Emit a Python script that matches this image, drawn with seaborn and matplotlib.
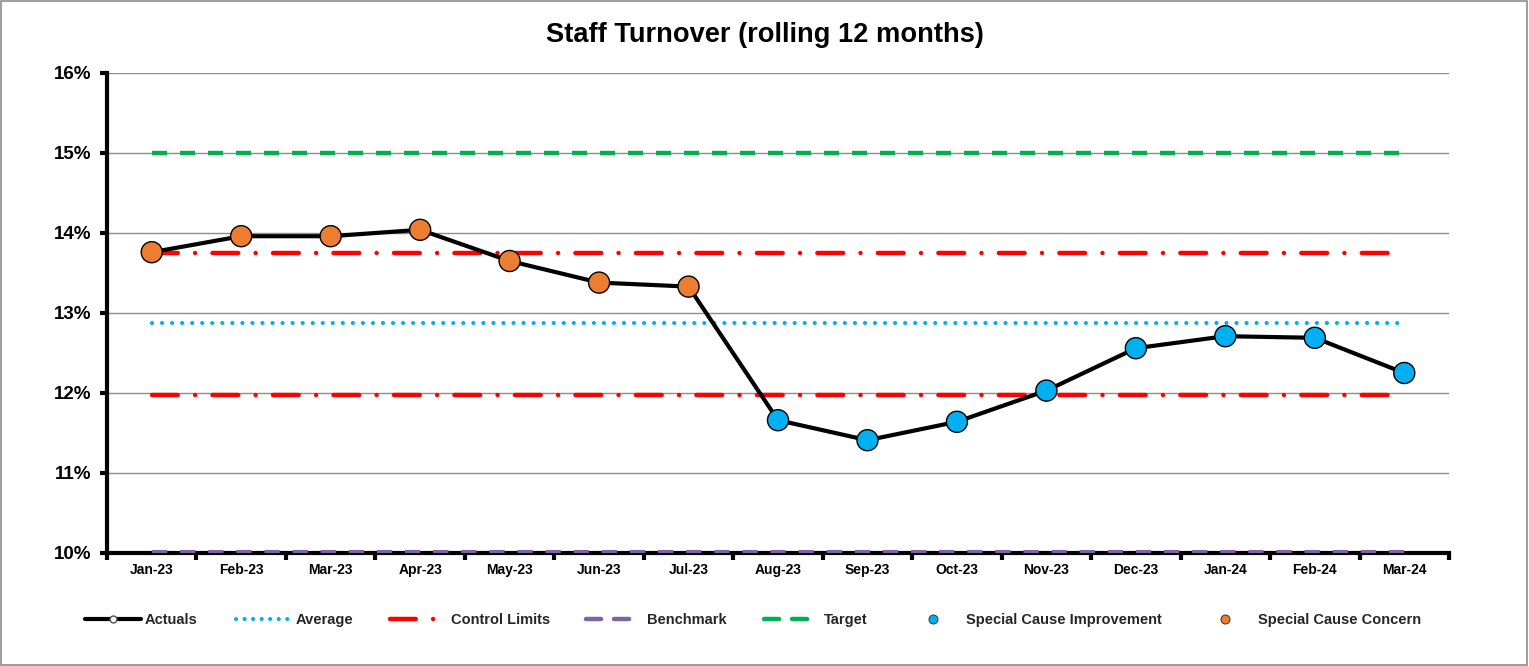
import matplotlib
matplotlib.use("Agg")
import matplotlib.pyplot as plt
from matplotlib.lines import Line2D
from matplotlib.ticker import FuncFormatter, FixedLocator
import seaborn as sns
import pandas as pd
import numpy as np

months = ["Jan-23", "Feb-23", "Mar-23", "Apr-23", "May-23", "Jun-23", "Jul-23",
          "Aug-23", "Sep-23", "Oct-23", "Nov-23", "Dec-23", "Jan-24", "Feb-24", "Mar-24"]
actuals = [13.76, 13.96, 13.96, 14.04, 13.65, 13.38, 13.33,
           11.66, 11.41, 11.64, 12.03, 12.56, 12.71, 12.69, 12.25]
average = [12.875] * 15
upper_limit = [13.75] * 15
lower_limit = [11.975] * 15
benchmark = [10.0] * 15
target = [15.0] * 15
signal = ["concern"] * 7 + ["improvement"] * 8

df = pd.DataFrame({"x": np.arange(len(months)), "month": months, "actual": actuals,
                   "avg": average, "ucl": upper_limit, "lcl": lower_limit,
                   "bench": benchmark, "target": target, "signal": signal})

sns.set_theme(style="white")
plt.rcParams["font.family"] = ["Liberation Sans", "DejaVu Sans"]

fig = plt.figure(figsize=(15.29, 6.66), dpi=100)
ax = fig.add_axes([107 / 1529, 1 - 553 / 666, (1449 - 107) / 1529, (553 - 73) / 666])

RED = "#FF0000"
BLUE = "#00B0F0"
ORANGE = "#ED7D31"
GREEN = "#00B050"
PURPLE = "#8064A2"

ax.set_ylim(10, 16)
ax.set_xlim(-0.5, len(months) - 0.5)
for yv in range(10, 17):
    ax.axhline(yv, color="#8c8c8c", lw=1.0, zorder=0)

common = dict(ax=ax, legend=False)
sns.lineplot(data=df, x="x", y="target", color=GREEN, lw=3.2, zorder=2, **common)
ax.lines[-1].set_dashes([3.4, 2.9]); ax.lines[-1].set_dash_capstyle("butt")
sns.lineplot(data=df, x="x", y="bench", color=PURPLE, lw=4.4, zorder=6, **common)
ax.lines[-1].set_dashes([2.5, 2.1]); ax.lines[-1].set_dash_capstyle("butt")
sns.lineplot(data=df, x="x", y="avg", color=BLUE, lw=3.0, zorder=2, **common)
ax.lines[-1].set_dashes([0.01, 2.4]); ax.lines[-1].set_dash_capstyle("round")
for col in ["ucl", "lcl"]:
    sns.lineplot(data=df, x="x", y=col, color=RED, lw=3.2, zorder=2, **common)
    ln = ax.lines[-1]
    ln.set_dashes([5.8, 3.9, 0.01, 3.9]); ln.set_dash_capstyle("round")

sns.lineplot(data=df, x="x", y="actual", color="black", lw=3.0, zorder=3, **common)
sns.scatterplot(data=df, x="x", y="actual", hue="signal",
                palette={"concern": ORANGE, "improvement": BLUE},
                s=230, edgecolor="black", linewidth=1.0, zorder=4, **common)

# axes styling
for s in ["top", "right"]:
    ax.spines[s].set_visible(False)
for s in ["left", "bottom"]:
    ax.spines[s].set_color("black")
    ax.spines[s].set_linewidth(3.0)
    ax.spines[s].set_zorder(5)

ax.set_yticks(range(10, 17))
ax.yaxis.set_major_formatter(FuncFormatter(lambda v, p: f"{int(v)}%"))
ax.set_xticks(df["x"])
ax.set_xticklabels(months)
ax.xaxis.set_minor_locator(FixedLocator(np.arange(-0.5, len(months), 1.0)))
ax.tick_params(axis="x", which="major", length=0, pad=7.5, labelsize=10)
ax.tick_params(axis="x", which="minor", bottom=True, length=5, width=3, color="black", direction="out")
ax.tick_params(axis="y", which="major", left=True, length=5, width=3, color="black",
               direction="out", pad=6.5, labelsize=13.5)
for lab in ax.get_xticklabels() + ax.get_yticklabels():
    lab.set_fontweight("bold")
    lab.set_color("black")
ax.set_xlabel("")
ax.set_ylabel("")

fig.text(0.5, 1 - 35 / 666, "Staff Turnover (rolling 12 months)", ha="center", va="center",
         fontsize=19.6, fontweight="bold", color="black")

# legend entries at their own positions
FS = 10.5
fpx = FS * 100 / 72
entries = [
    (85, 56, 145, Line2D([], [], color="black", lw=3, marker="o", markersize=5,
                         markerfacecolor="#f2f2f2", markeredgecolor="#555555"), "Actuals"),
    (236, 52, 296, Line2D([], [], color=BLUE, lw=3, dashes=[0.01, 2.04], dash_capstyle="round"), "Average"),
    (390, 49, 451, Line2D([], [], color=RED, lw=3.2, dashes=[5.8, 3.9, 0.01, 3.9], dash_capstyle="round"), "Control Limits"),
    (586, 44, 647, Line2D([], [], color=PURPLE, lw=3.2, dashes=[3.4, 2.9], dash_capstyle="round"), "Benchmark"),
    (764, 44, 824, Line2D([], [], color=GREEN, lw=3.2, dashes=[3.4, 2.9], dash_capstyle="round"), "Target"),
    (923, 20, 966, Line2D([], [], ls="none", marker="o", markersize=6.5, markerfacecolor=BLUE,
                          markeredgecolor="#333333", markeredgewidth=0.7), "Special Cause Improvement"),
    (1215, 20, 1258, Line2D([], [], ls="none", marker="o", markersize=6.5, markerfacecolor=ORANGE,
                            markeredgecolor="#333333", markeredgewidth=0.7), "Special Cause Concern"),
]
for xpx, hlen, tx, h, label in entries:
    fig.legend([h], [label], loc="center left",
               bbox_to_anchor=(xpx / 1529, 1 - 620 / 666),
               frameon=False, handlelength=hlen / fpx,
               handletextpad=(tx - xpx - hlen) / fpx,
               borderpad=0, borderaxespad=0,
               prop={"size": FS, "weight": "bold"})

# figure border
fig.add_artist(plt.Rectangle((0.0005, 0.001), 0.998, 0.997, transform=fig.transFigure,
                             fill=False, edgecolor="#8c8c8c", lw=1.2))

fig.savefig("out.png", dpi=100, facecolor="white")
